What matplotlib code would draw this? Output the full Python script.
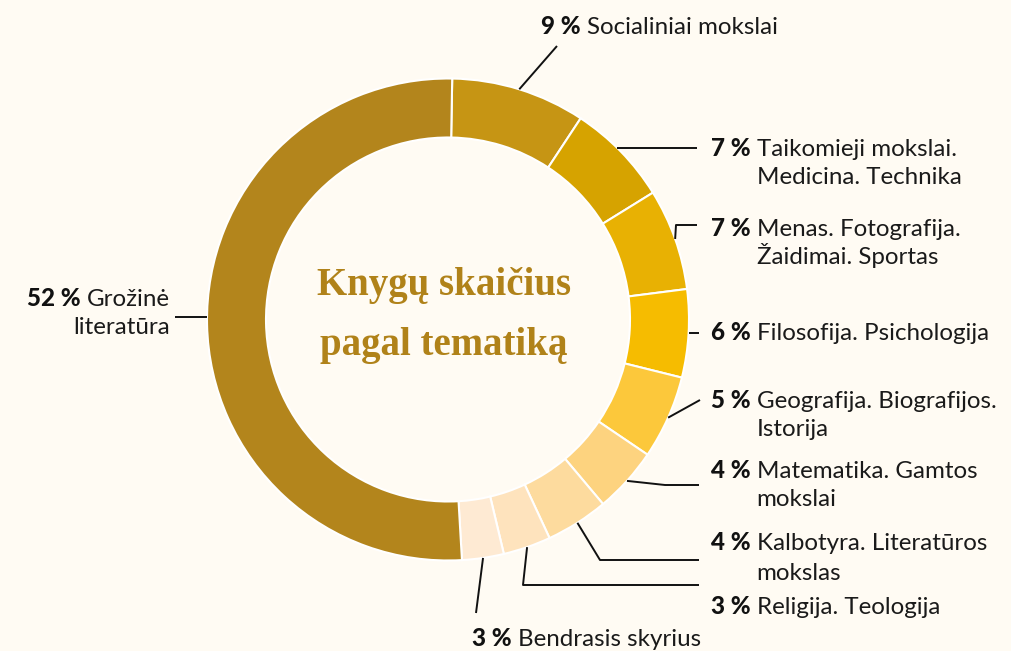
import matplotlib
matplotlib.use("Agg")
import matplotlib.pyplot as plt
import numpy as np

# ---- data ----
categories = ["Socialiniai mokslai", "Taikomieji mokslai.\nMedicina. Technika",
              "Menas. Fotografija.\nŽaidimai. Sportas", "Filosofija. Psichologija",
              "Geografija. Biografijos.\nIstorija", "Matematika. Gamtos\nmokslai",
              "Kalbotyra. Literatūros\nmokslas", "Religija. Teologija",
              "Bendrasis skyrius", "Grožinė\nliteratūra"]
shares = [9.0, 6.9, 6.8, 5.9, 5.6, 4.4, 4.2, 3.2, 2.8, 51.2]
pct_labels = ["9 %", "7 %", "7 %", "6 %", "5 %", "4 %", "4 %", "3 %", "3 %", "52 %"]
colors = ["#C69514", "#D6A300", "#E8B103", "#F6BC00", "#FCC83B",
          "#FDD37F", "#FDDB9E", "#FEE3BD", "#FEEAD3", "#B3851C"]
title_lines = ["Knygų skaičius", "pagal tematiką"]

BG = "#FFFBF3"
W, H = 1011, 651
fig = plt.figure(figsize=(W / 100, H / 100), dpi=100, facecolor=BG)
ax = fig.add_axes([0, 0, 1, 1])

def py(y):  # pixel-from-top -> data y
    return H - y

cx, cy, R, ring = 448, py(319.5), 241, 59
start = 89
wedges, _ = ax.pie(shares, colors=colors, startangle=start, counterclock=False,
                   center=(cx, cy), radius=R, frame=True,
                   wedgeprops=dict(width=ring, edgecolor="white", linewidth=1.5))
ax.set_xlim(0, W)
ax.set_ylim(0, H)
ax.set_aspect("equal")
ax.axis("off")

# leader path layout (pixel coords after the ring point); flag: horizontal start
leader_paths = [
    ([(557, 46)], False),
    ([(697, 148)], True),
    ([(676, 225), (697, 225)], False),
    ([(699, 333)], True),
    ([(700, 400)], False),
    ([(665, 485), (699, 485)], False),
    ([(600, 560), (699, 560)], False),
    ([(523, 585), (699, 585)], False),
    ([(476, 613)], False),
    ([(175, 317)], True),
]
# (x anchor, y of first line center, side)
label_pos = [
    (541, 26, "top"),
    (711, 148, "right"),
    (711, 228, "right"),
    (711, 333, "right"),
    (711, 400, "right"),
    (711, 470, "right"),
    (711, 543, "right"),
    (711, 606, "right"),
    (472, 638, "top"),
    (170, 298, "left"),
]

FONT = "Lato"
FS = 17.4
LH = 29
BASE = 7.5
GAP = 6

for w, (path, horiz), (lx, ly, side), pct, cat in zip(wedges, leader_paths, label_pos, pct_labels, categories):
    mid = np.deg2rad((w.theta1 + w.theta2) / 2)
    if horiz:
        yy = py(path[0][1])
        dx = np.sqrt(max(R ** 2 - (yy - cy) ** 2, 0))
        sx = cx + dx if path[0][0] > cx else cx - dx
        sy = yy
    else:
        sx, sy = cx + R * np.cos(mid), cy + R * np.sin(mid)
    xs = [sx] + [p[0] for p in path]
    ys = [sy] + [py(p[1]) for p in path]
    ax.plot(xs, ys, color="#111111", lw=1.4, solid_capstyle="butt")

    lines = cat.split("\n")
    if side == "left":
        t = ax.text(lx, py(ly + BASE), lines[0], ha="right", va="baseline",
                    fontsize=FS, family=FONT, color="#1a1a1a")
        fig.canvas.draw()
        bb = t.get_window_extent()
        ax.text(bb.x0 - GAP, py(ly + BASE), pct, ha="right", va="baseline",
                fontsize=FS, family=FONT, fontweight="black", color="#111111")
        for i, ln in enumerate(lines[1:], 1):
            ax.text(lx, py(ly + BASE + i * LH), ln, ha="right", va="baseline",
                    fontsize=FS, family=FONT, color="#1a1a1a")
    else:
        b = ax.text(lx, py(ly + BASE), pct, ha="left", va="baseline",
                    fontsize=FS, family=FONT, fontweight="black", color="#111111")
        fig.canvas.draw()
        bb = b.get_window_extent()
        tx = bb.x1 + GAP
        for i, ln in enumerate(lines):
            ax.text(tx, py(ly + BASE + i * LH), ln, ha="left", va="baseline",
                    fontsize=FS, family=FONT, color="#1a1a1a")

ax.text(444, py(285), title_lines[0], ha="center", va="center", fontsize=28,
        family="Liberation Serif", fontweight="bold", color="#B08219")
ax.text(444, py(345), title_lines[1], ha="center", va="center", fontsize=28,
        family="Liberation Serif", fontweight="bold", color="#B08219")

fig.savefig("out.png", dpi=100, facecolor=BG)
